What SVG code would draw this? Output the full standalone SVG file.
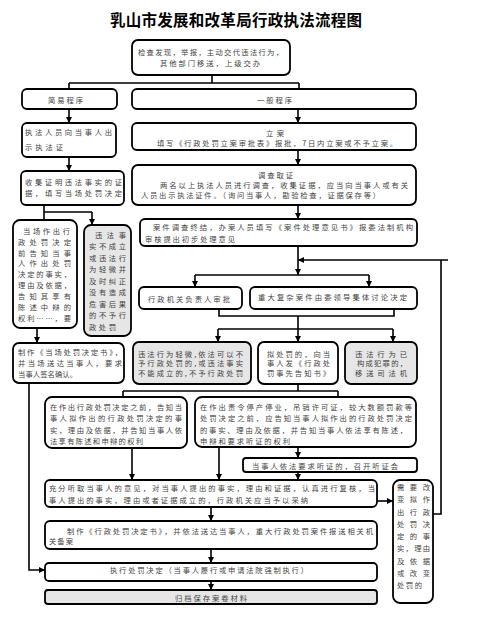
<svg xmlns="http://www.w3.org/2000/svg" width="483" height="621" viewBox="0 0 483 621">
<style>
.b{fill:#fff;stroke:#000;stroke-width:1.8}
.g{fill:#e6e6e6;stroke:#000;stroke-width:1.8}
.t{font-family:"Noto Sans CJK SC","Noto Sans",sans-serif;font-size:7.3px;fill:#444}
.ttl{font-family:"Noto Sans CJK SC",sans-serif;font-size:15.5px;font-weight:700;fill:#000}
#c path,#c line{fill:none;stroke:#000;stroke-width:1.6}
</style>
<defs>
<marker id="a" viewBox="0 0 10 10" refX="10" refY="5" markerWidth="6" markerHeight="6" markerUnits="userSpaceOnUse" orient="auto"><path d="M0,0 L10,5 L0,10 z" fill="#000"/></marker>
</defs>
<rect width="483" height="621" fill="#fff"/>
<text class="ttl" x="110" y="26" textLength="252">乳山市发展和改革局行政执法流程图</text>

<g id="c">
<path d="M212,75 V83 M69,83 H299 M69,83 V89 M299,83 V89"/>
<path d="M69,109 V123" marker-end="url(#a)"/>
<path d="M69,157 V171" marker-end="url(#a)"/>
<path d="M44,205 V220 M44,212 H92"/>
<path d="M92,212 V225" marker-end="url(#a)"/>
<path d="M37,328 V343" marker-end="url(#a)"/>
<path d="M29,383 V570 H45" marker-end="url(#a)"/>
<path d="M298,109 V123" marker-end="url(#a)"/>
<path d="M298,150 V165" marker-end="url(#a)"/>
<path d="M298,205 V219" marker-end="url(#a)"/>
<path d="M298,246 V275" marker-end="url(#a)"/>
<path d="M433,514 H441 V260 M448,260 H298" marker-end="url(#a)"/>
<path d="M195,275 H369"/>
<path d="M195,275 V287" marker-end="url(#a)"/>
<path d="M369,275 V287" marker-end="url(#a)"/>
<path d="M219,309 V316 H394 V309 M298,316 V329 M218,329 H393"/>
<path d="M218,329 V342" marker-end="url(#a)"/>
<path d="M298,329 V342" marker-end="url(#a)"/>
<path d="M393,329 V342" marker-end="url(#a)"/>
<path d="M298,384 V391 M123,391 H338 M123,391 V397 M338,391 V397"/>
<path d="M132,448 V480" marker-end="url(#a)"/>
<path d="M219,447 V480" marker-end="url(#a)"/>
<path d="M298,447 V458" marker-end="url(#a)"/>
<path d="M298,472 V480" marker-end="url(#a)"/>
<path d="M377,501 H393" marker-end="url(#a)"/>
<path d="M211,507 V521" marker-end="url(#a)"/>
<path d="M211,549 V563" marker-end="url(#a)"/>
<path d="M211,581 V590" marker-end="url(#a)"/>
</g>

<g id="n1"><rect class="b" x="132" y="40" width="158" height="35" rx="6"/>
<text class="t" x="138" y="54.5" textLength="145">检查发现，举报，主动交代违法行为，</text>
<text class="t" x="160" y="66" textLength="100">其他部门移送，上级交办</text></g>

<g id="n2"><rect class="b" x="22" y="89" width="95" height="20" rx="5"/>
<text class="t" x="48" y="102.5" textLength="35">简易程序</text></g>

<g id="n3"><rect class="b" x="132" y="89" width="284" height="20" rx="5"/>
<text class="t" x="257" y="102.5" textLength="35">一般程序</text></g>

<g id="n4"><rect class="b" x="22" y="123" width="94" height="34" rx="5"/>
<text class="t" x="25" y="134.5" textLength="87">执法人员向当事人出</text>
<text class="t" x="25" y="149.5" textLength="38">示执法证</text></g>

<g id="n5"><rect class="b" x="21" y="171" width="103" height="34" rx="5"/>
<text class="t" x="25" y="184.5" textLength="97">收集证明违法事实的证</text>
<text class="t" x="25" y="196" textLength="97">据，填写当场处罚决定</text></g>

<g id="n6"><rect class="b" x="132" y="123" width="284" height="27" rx="5"/>
<text class="t" x="266" y="136" textLength="18">立案</text>
<text class="t" x="157" y="146" textLength="240">填写《行政处罚立案审批表》报批，7日内立案或不予立案。</text></g>

<g id="n7"><rect class="b" x="132" y="165" width="284" height="40" rx="6"/>
<text class="t" x="258" y="178" textLength="35">调查取证</text>
<text class="t" x="160" y="188" textLength="248">两名以上执法人员进行调查，收集证据，应当向当事人或有关</text>
<text class="t" x="141" y="198" textLength="239">人员出示执法证件。（询问当事人，勘验检查，证据保存等）</text></g>

<g id="n8"><rect class="b" x="140" y="219" width="277" height="27" rx="5"/>
<text class="t" x="153" y="230" textLength="260">案件调查终结，办案人员填写《案件处理意见书》报委法制机构</text>
<text class="t" x="145" y="242" textLength="90">审核提出初步处理意见</text></g>

<g id="n9"><rect class="b" x="13" y="220" width="64" height="108" rx="7"/>
<text class="t" x="23" y="233.5" textLength="47">当场作出行</text>
<text class="t" x="18" y="244.5" textLength="53">政处罚决定</text>
<text class="t" x="18" y="255.5" textLength="53">前告知当事</text>
<text class="t" x="18" y="266" textLength="53">人作出处罚</text>
<text class="t" x="18" y="277" textLength="53">决定的事实，</text>
<text class="t" x="18" y="288" textLength="53">理由及依据，</text>
<text class="t" x="18" y="299" textLength="53">告知其享有</text>
<text class="t" x="18" y="310" textLength="53">陈述中辩的</text>
<text class="t" x="18" y="321" textLength="53">权利……，要</text></g>

<g id="n10"><rect class="g" x="84" y="225" width="47" height="111" rx="7"/>
<text class="t" x="95" y="237.8" textLength="31">违法事</text>
<text class="t" x="89" y="249.3" textLength="37">实不成立</text>
<text class="t" x="89" y="260.7" textLength="37">或违法行</text>
<text class="t" x="89" y="272.2" textLength="37">为轻微并</text>
<text class="t" x="89" y="283.6" textLength="37">及时纠正</text>
<text class="t" x="89" y="295.1" textLength="37">没有造成</text>
<text class="t" x="89" y="306.5" textLength="37">危害后果</text>
<text class="t" x="89" y="318" textLength="37">的不予行</text>
<text class="t" x="89" y="329.5" textLength="27">政处罚</text></g>

<g id="n11"><rect class="b" x="13" y="343" width="111" height="40" rx="6"/>
<text class="t" x="18" y="355" textLength="104">制作《当场处罚决定书》，</text>
<text class="t" x="18" y="366" textLength="104">并当场送达当事人，要求</text>
<text class="t" x="18" y="377" textLength="59">当事人签名确认。</text></g>

<g id="n12"><rect class="b" x="139" y="287" width="103" height="22" rx="5"/>
<text class="t" x="148" y="301.5" textLength="82">行政机关负责人审批</text></g>

<g id="n13"><rect class="b" x="250" y="287" width="167" height="22" rx="5"/>
<text class="t" x="258" y="300" textLength="149">重大复杂案件由委领导集体讨论决定</text></g>

<g id="n14"><rect class="g" x="133" y="342" width="118" height="42" rx="6"/>
<text class="t" x="138" y="356.5" textLength="105">违法行为轻微,依法可以不</text>
<text class="t" x="138" y="366" textLength="105">予行政处罚的,或违法事实</text>
<text class="t" x="138" y="376" textLength="105">不能成立的,不予行政处罚</text></g>

<g id="n15"><rect class="b" x="258" y="342" width="80" height="42" rx="6"/>
<text class="t" x="267" y="356.5" textLength="63">拟处罚的，向当</text>
<text class="t" x="267" y="366" textLength="63">事人发《行政处</text>
<text class="t" x="267" y="376" textLength="63">罚事先告知书》</text></g>

<g id="n16"><rect class="g" x="345" y="342" width="72" height="42" rx="6"/>
<text class="t" x="355" y="356.5" textLength="52">违法行为已</text>
<text class="t" x="357" y="366" textLength="50">构成犯罪的，</text>
<text class="t" x="355" y="376" textLength="52">移送司法机</text></g>

<g id="n17"><rect class="b" x="45" y="397" width="142" height="51" rx="7"/>
<text class="t" x="50" y="409.5" textLength="132">在作出行政处罚决定之前，告知当</text>
<text class="t" x="50" y="421" textLength="132">事人拟作出的行政处罚决定的事</text>
<text class="t" x="50" y="432.5" textLength="132">实，理由及依据，并告知当事人依</text>
<text class="t" x="50" y="444" textLength="93">法享有陈述和申辩的权利</text></g>

<g id="n18"><rect class="b" x="195" y="397" width="221" height="50" rx="7"/>
<text class="t" x="200" y="409.5" textLength="212">在作出责令停产停业，吊销许可证，较大数额罚款等</text>
<text class="t" x="200" y="421" textLength="212">处罚决定之前，应告知当事人拟作出的行政处罚决定</text>
<text class="t" x="200" y="432.5" textLength="207">的事实、理由及依据，并告知当事人依法享有陈述，</text>
<text class="t" x="200" y="444" textLength="90">申辩和要求听证的权利</text></g>

<g id="n19"><rect class="b" x="243" y="458" width="174" height="14" rx="3"/>
<text class="t" x="252" y="468.5" textLength="146">当事人依法要求听证的，召开听证会</text></g>

<g id="n20"><rect class="b" x="45" y="480" width="332" height="27" rx="5"/>
<text class="t" x="49" y="490.5" textLength="326">充分听取当事人的意见，对当事人提出的事实，理由和证据，认真进行复核，当</text>
<text class="t" x="49" y="502.5" textLength="259">事人提出的事实，理由或者证据成立的，行政机关应当予以采纳</text></g>

<g id="n21"><rect class="b" x="393" y="480" width="40" height="123" rx="7"/>
<text class="t" x="397" y="490" textLength="33">需要改</text>
<text class="t" x="397" y="502.3" textLength="33">变拟作</text>
<text class="t" x="397" y="514.5" textLength="33">出行政</text>
<text class="t" x="397" y="526.8" textLength="33">处罚决</text>
<text class="t" x="397" y="539" textLength="33">定的事</text>
<text class="t" x="397" y="551.3" textLength="33">实，理由</text>
<text class="t" x="397" y="563.5" textLength="33">及依据</text>
<text class="t" x="397" y="575.8" textLength="33">或改变</text>
<text class="t" x="397" y="588" textLength="25">处罚的</text></g>

<g id="n22"><rect class="b" x="45" y="521" width="332" height="28" rx="5"/>
<text class="t" x="67" y="533.8" textLength="306">制作《行政处罚决定书》，并依法送达当事人，重大行政处罚案件报送相关机</text>
<text class="t" x="49" y="543.8" textLength="24">关备案</text></g>

<g id="n23"><rect class="b" x="45" y="563" width="332" height="18" rx="4"/>
<text class="t" x="110" y="573" textLength="198">执行处罚决定（当事人履行或申请法院强制执行）</text></g>

<g id="n24"><rect class="g" x="45" y="590" width="332" height="14" rx="3"/>
<text class="t" x="175" y="600.8" textLength="72">归档保存案卷材料</text></g>
</svg>
